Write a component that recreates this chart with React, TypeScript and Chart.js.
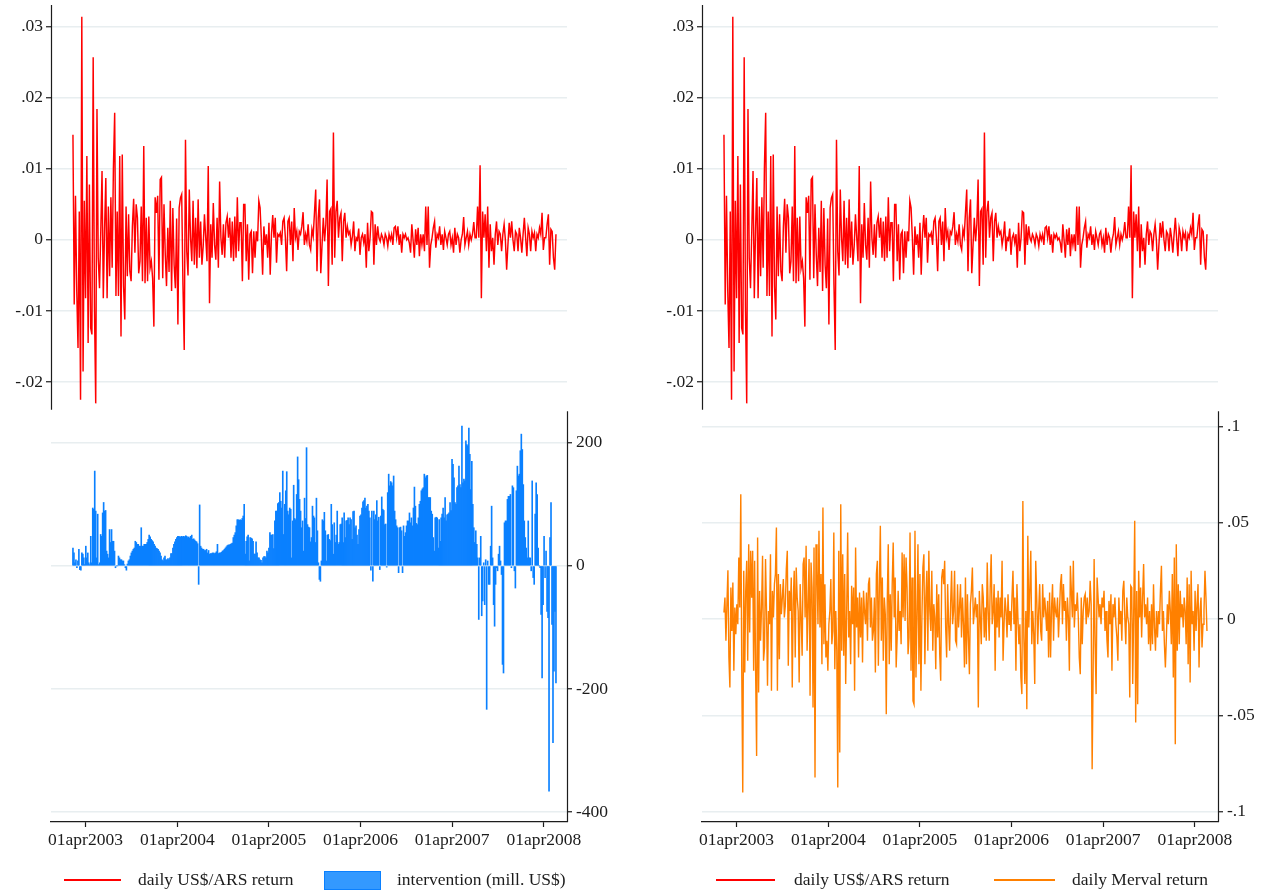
import React, { useEffect, useRef } from "react";
import { Chart, registerables } from "chart.js";

Chart.register(...registerables);

// Sample period and x-axis labelling
const FIRST_DAY = "2003-02-10";
const LAST_DAY = "2008-05-19";
const BASE_DAY = "2003-04-01";
const TICK_DATES = ["2003-04-01", "2004-04-01", "2005-04-01", "2006-04-01", "2007-04-01", "2008-04-01"];
const TICK_LABELS = ["01apr2003", "01apr2004", "01apr2005", "01apr2006", "01apr2007", "01apr2008"];

const RETURN_TICKS = [0.03, 0.02, 0.01, 0, -0.01, -0.02];
const RETURN_TICK_LABELS = [".03", ".02", ".01", "0", "-.01", "-.02"];
const INTERVENTION_TICKS = [200, 0, -200, -400];
const INTERVENTION_TICK_LABELS = ["200", "0", "-200", "-400"];
const MERVAL_TICKS = [0.1, 0.05, 0, -0.05, -0.1];
const MERVAL_TICK_LABELS = [".1", ".05", "0", "-.05", "-.1"];

// daily US$/ARS return, basis points (1 bp = 0.0001)
const usdArsReturnBp = [
  148, -91, 62, -72, -152, 40, -225, 314, -185, 55, -82, 118, -145, 78, -124, -133, 257, -94, -230, 184, -25,
  -68, 12, 97, -82, 15, 87, -82, 47, -51, 60, -39, 102, 179, -79, 40, -79, 118, -136, 120, -65, -112, 47, -51, 36, -44, -58,
  19, 58, -18, 50, 31, -47, -30, 47, -58, 132, -61, 31, -58, 33, -40, -30, -54, -122, 60, 38, 62, -56, 85, 88, -54, 50, -20,
  -65, 17, -45, 55, -72, 45, -35, -68, 30, -119, 45, 59, 64, -63, -155, 141, -16, -50, 71, 3, -30, 55, -35, 31, -40, 57, -25,
  26, -35, -9, 36, 3, -30, 104, -89, 22, -25, 52, -7, -28, 31, -39, 82, 3, -21, 22, -25, 24, 33, 3,
  31, -25, 26, -30, 33, -25, 60, -16, 24, 24, -58, 50, 50, -30, 22, -56, 8, 12, -47, 12, -25, 12, -2, 55, 45, 3, -49, 19,
  -7, 8, -25, 24, -49, 8, 35, 3, 31, -32, 8, 5, 10, -7, 26, 31, 3, -44, 26, 31, -7, 26, -30, 45, 3, 12, -14, 12, 8, 19, 39,
  -7, 8, -2, 22, -7, -14, 15, 5, 38, 71, -44, 31, 57, -47, -7, 31, -2, 22, 85, -65, 40, 44, -35, 151, -25, 40, 55, 3, 31,
  38, -30, 26, 38, 3, 19, 8, 12, -7, 5, 26, -16, 3, 0, 16, -21, 3, 8, -4, 8, -39, 24, -16, 3, 40, 38, -35, 22, -7, 19, 3,
  -2, 8, 3, -7, 8, 3, -9, 8, 0, 8, -7, 17,
  19, 3, 19, -7, 8, -18, 8, 3, 8, 0, 3, -4, -18, 22, 0, -25, 15, -7, 17, -23, 8, -7, 8, -16, 47, -7, 47, -39, -7, 3, 17, 26,
  -11, 8, 3, 19, -7, 8, -14, 12, 3, -7, 8, 12, -7, 3, -18, 17, -7, 8, 3, -18, 0, 8, 32, -7, 3, 12, -7, 8, 0, 8, 25, 3, 3,
  47, 3, 105, -82, 40, 3, 36, -16, 47, -39, 22, -16, 3, -35, 8, 26, -7, 12, 8, -16, 8, 22, 0, -42, -7, 24, 3, 26, 0, -16, 12,
  8, -16, 17, 3, -18, 8, 31, 3, -23, 17, 8, -16, 12, 3, 10, -16, 8, 3, 17, 8, 38, -14, 3, 3, 22, 36, -35, 15, 12, -25, -42, 8,
];

// daily central bank intervention, millions of US$
const interventionMillUsd = [
  29, 21, 5, 10, -3, 8, 27, -6, -7, 21, 19, 13, 2, 32, 13, 21, 5, 2, 48, 5, 94, 92, 154, 89, 13, 84, 2, 5, 51, 48, 86, 103,
  89, 90, 24, 19, 13, 59, 38, 59, 40, 40, 24, -3, 0, 0, 16, 13, 10, 10, 8, 8, 2, -3, -7, 3, 8, 10, 16, 21, 24, 27, 29, 40,
  38, 35, 35, 32, 32, 62, 32, 32, 35, 35, 35, 38, 43, 50, 47, 43, 41, 39, 35, 32, 29, 28, 27, 24, 21, 16, 10, 8, 13, 16, 10,
  10, 12, 10, 13, 20, 20, 29, 35, 39, 43, 46, 48, 48, 47, 47, 48, 47, 48, 47, 49, 48, 46, 47, 45, 48, 50, 43, 44, 42, 40, 39,
  36, -30, 99, 32, 29, 27, 27, 25, 25, 27, 21, 25, 19, 20, 20, 21, 21, 20, 21, 23, 35, 20, 21, 21, 22, 24, 25, 27, 29, 31,
  33, 34,
  34, 35, 36, 37, 46, 50, 54, 65, 75, 75, 74, 75, 74, 77, 81, 100, 19, 40, 47, 50, 8, 46, 45, 44, 40, 19, 19, 39, 21, 13, 13,
  10, 9, 5, 13, 15, 15, 13, 24, 21, 29, 54, 50, 50, 51, 28, 73, 89, 89, 101, 103, 119, 105, 94, 154, 51, 100, 122, 153, 89,
  83, 94, 92, 13, 73, 131, 77, 75, 116, 177, 140, 108, 89, 62, 73, 24, 110, 77, 192, 67, 63, 62, 39, 46, 97, 81, 78, 38, 110,
  57, 5, -22, -25, 8, 75, 73, 87, 57, 8, 50, 51, 43, 41, 100, 67, 19, 70, 38, 50, 89, 35, 38, 67, 68, 78, 38, 86, 46, 73, 74,
  78, 67, 78, 75, 43, 88, 89, 62, 65, 50, 35, 59, 81, 83, 94, 104, 106, 110, 94, 97, 100, 89, 78, -7, 89, -25, 89, 75, 83,
  106, 73, 79, -6, 81, 112, 92, 90, 67, 68, -2, 119, 149, 130, 137, 135, 130,
  146, 89, 75, 65, 62, -11, 62, 63, 57, -11, 65, 48, 54, 65, 73, 73, 86, 70, 78, 65, 94, 128, 97, 69, 67, 78, 100, 105, 122,
  125, 127, 149, 143, 146, 147, 111, 111, 111, 89, 84, 46, 24, 78, 79, 78, 29, 75, 40, 78, 84, 94, 78, 111, 73, 83, 84, 86,
  103, 90, 173, 165, 143, 103, 100, 127, 130, 162, 132, 127, 227, 135, 141, 138, 203, 197, 195, 224, 181, 124, 170, 100, 62,
  38, 57, 35, 13, -87, 13, 48, -81, -57, 5, -63, 10, -233, 8, -30, -30, 32, 97, 13, -63, -98, -30, -3, -8, 19, 32, 8, -14,
  -160, -174, 70, 73, 73, 108, 113, 113, 116, -3, 130, 127, -8, -36, 122, 162, 146, 149, 187, 214, 189, 132, 73, 46, 29, 13,
  73, 13, 13, -8, 138, -19, -30, 84, 135, 116, 29, 0, -3, -79, -182, -63, 48, -19, 24, -74, -84, -366, 46, 103, -95, -287,
  -171, -74, -190,
];

// daily Merval return, basis points
const mervalReturnBp = [
  35, 112, -112, 78, 254, -199, -355, 164, -61, 190, -268, 61, -78, 78, -26, 320, 61, 649, -277, -900, 251, -277, 147, 303,
  -216, 389, -69, 355, 112, 355, -268, 303, -277, -710, 424, -381, 147, -112, 61, 329, -216, -147, 312, 43, -346, 43, -26, 337,
  -372, 147, 9, 182, 234, 476, -372, 234, -208, 182, 26, 112, 208, 9, 69, 260, 355, -242, 147, 43, 216, -355, 95, 251, -199,
  268, 112, 43, -329, 182, 9, -190, 286, 320, 9, 381, -164, 78, 312, -398, 294, 164, -459, 372, -822, 389, 251, -26, 459, -43,
  234, -234, 580, -130, 182, -199, -112, -268, -26, 43, 208, -130, -61, 450, -260, 43, -164, -874, 355, -692, 597, -164, 337,
  -190, 234, -337, 43, 450, -95, 43, -234, 173, -26, 164, -372, 372, -43, 112, -199, 138, -95, 112, -225, 147, 43, -26, 138,
  -112, 182, 216, -43, 112, -112, -61, 112, -277, 234, 303, -242, 164, 485, -112, 216, -216, 112, 26, -493,
  95, 389, -234, 130, -164, 182, 398, 9, 216, -251, -95, 147, -61, 43, -130, 346, 9, 337, -9, 320, 164, -182, -95, 450, -268,
  216, -424, -441, 459, -303, 9, 389, -234, 234, -372, 9, 268, 337, -234, 112, 251, -164, 355, 43, -61, 251, -164, 78, 9,
  -260, 182, -95, 130, -182, -320, 216, 260, 182, 303, -43, -199, 182, -26, -164, 78, 251, -26, 43, 251, -112, -130, 182, -43,
  61, 182, -95, 112, -26, -251, 216, -234, 130, -95, -286, 78, 147, 268, -26, 43, 112, 9, 78, -459, 147, 9, -130, 182, 112,
  -95, 61, -112, 294, 43, -112, 164, 337, -26, 43, 182, -268, 112, -43, 147, -95, 112, 9, 303, -216, -26, 112, 43, -95, 130,
  -26, 43, -61, 112, 251, -26, 112, -268, 182, 9, -130, -26, -303, -389, 614, -95, -337, 43, -467, 433, -43, 147, 355, -130,
  43, -78, -337, 303, 112, -130, 43, 182, -61, -112, 182, 9, 112, 43, -61, 95, -199, 138,
  -199, 61, 182, -112, 112, 43, 9, 112, -95, 43, 182, 234, -26, 182, 43, 95, -112, 112, 9, -268, 277, 147, 9, 303, -43, 78,
  43, 138, 9, -199, -286, 112, -130, 43, 112, 130, -26, 112, 9, 43, 199, 78, -779, -268, 312, -130, -389, 216, 112, 9, 78,
  -26, 112, 61, 147, -61, 43, -112, -199, 95, -26, 130, -268, 78, 9, 112, -26, -95, -216, 112, -26, 43, -112, 147, 199, 9,
  -130, 112, 9, -26, -407, 173, 164, -337, 43, 511, -537, 147, -441, 251, 9, 164, -95, 112, 286, 9, 78, -26, 112, -130, 43,
  -164, 78, -130, 182, -43, -164, 43, -95, 43, -26, 147, 277, -61, 43, -130, -251, -95, 78, -26, 147, 43, -130, 234, -303,
  320, -649, 389, -164, 182, -130, 147, 9, 78, -43, 112, 43, -130, 216, -234, 182, -329, 251, -26, 43, -164, 147, -61, 78,
  182, -251, 43, 112, -147, -26, 43, 251, 112, -61,
];

const BP = 1 / 10000;

const dayOf = (d: string) => (Date.parse(d + "T00:00:00Z") - Date.parse(BASE_DAY + "T00:00:00Z")) / 86400000;

// spread a series of daily observations evenly over the sample period
function toPoints(values: number[], factor: number) {
  const a = dayOf(FIRST_DAY);
  const b = dayOf(LAST_DAY);
  const step = (b - a) / (values.length - 1);
  return values.map((v, i) => ({ x: a + i * step, y: v * factor }));
}

const FONT = { family: '"Liberation Serif", "Times New Roman", serif', size: 17.5 };
const INK = "#1c1c1c";
const GRID = "#e8eef0";
const RED = "#ff0000";
const BLUE = "#0a80ff";
const ORANGE = "#ff8000";

const X_MIN = -137.5;
const X_MAX = 1919;
const RETURN_MIN = -0.0819;
const RETURN_MAX = 0.03305;
const RETURN_AXIS_END = -0.0239;

const fixedTicks = (values: number[]) => (scale: any) => {
  scale.ticks = values.map((v) => ({ value: v }));
};

// vertical axes keep an exact width and no extra label room above/below the plot
const fixedWidth = (w: number) => (s: any) => {
  s.width = w;
  s.paddingTop = 0;
  s.paddingBottom = 0;
};

// axis lines that only cover the part of the plot each series lives in
const splitAxisLines = {
  id: "splitAxisLines",
  afterDraw(chart: any, _args: any, o: any) {
    const { ctx, chartArea } = chart;
    const yEnd = chart.scales.y.getPixelForValue(o.leftEnd);
    const yStart = chart.scales.y2.getPixelForValue(o.rightStart);
    const l = Math.round(chartArea.left) + 0.5;
    const r = Math.round(chartArea.right) + 0.5;
    ctx.save();
    ctx.strokeStyle = INK;
    ctx.lineWidth = 1.2;
    ctx.beginPath();
    ctx.moveTo(l, chartArea.top);
    ctx.lineTo(l, yEnd);
    ctx.moveTo(r, yStart);
    ctx.lineTo(r, chartArea.bottom);
    ctx.stroke();
    ctx.restore();
  },
};

type Panel = {
  lowerKind: "bar" | "line";
  lowerValues: number[];
  lowerFactor: number;
  lowerColor: string;
  y2Min: number;
  y2Max: number;
  y2Ticks: number[];
  y2Labels: string[];
  rightAxisFrom: number;
  yWidth: number;
  y2Width: number;
};

const INTERVENTION_PANEL: Panel = {
  lowerKind: "bar",
  lowerValues: interventionMillUsd,
  lowerFactor: 1,
  lowerColor: BLUE,
  y2Min: -416,
  y2Max: 911,
  y2Ticks: INTERVENTION_TICKS,
  y2Labels: INTERVENTION_TICK_LABELS,
  rightAxisFrom: 251,
  yWidth: 51,
  y2Width: 66,
};

const MERVAL_PANEL: Panel = {
  lowerKind: "line",
  lowerValues: mervalReturnBp,
  lowerFactor: BP,
  lowerColor: ORANGE,
  y2Min: -0.1053,
  y2Max: 0.3189,
  y2Ticks: MERVAL_TICKS,
  y2Labels: MERVAL_TICK_LABELS,
  rightAxisFrom: 0.108,
  yWidth: 69,
  y2Width: 48,
};

function buildConfig(p: Panel): any {
  const lower = toPoints(p.lowerValues, p.lowerFactor);
  const lowerDataset =
    p.lowerKind === "bar"
      ? {
          type: "bar",
          data: lower,
          yAxisID: "y2",
          backgroundColor: p.lowerColor,
          borderWidth: 0,
          barPercentage: 1,
          categoryPercentage: 1,
          grouped: false,
        }
      : {
          type: "line",
          data: lower,
          yAxisID: "y2",
          borderColor: p.lowerColor,
          borderWidth: 1.4,
          pointRadius: 0,
          tension: 0,
        };
  const tickDays = TICK_DATES.map(dayOf);
  return {
    type: "bar",
    data: {
      datasets: [
        {
          type: "line",
          data: toPoints(usdArsReturnBp, BP),
          yAxisID: "y",
          borderColor: RED,
          borderWidth: 1.45,
          pointRadius: 0,
          tension: 0,
        },
        lowerDataset,
      ],
    },
    options: {
      animation: false,
      responsive: false,
      devicePixelRatio: 1,
      layout: { padding: { top: 5, bottom: 40, left: 0, right: 0 } },
      plugins: {
        legend: { display: false },
        tooltip: { enabled: false },
        splitAxisLines: { leftEnd: RETURN_AXIS_END, rightStart: p.rightAxisFrom },
      },
      scales: {
        x: {
          type: "linear",
          min: X_MIN,
          max: X_MAX,
          offset: false,
          afterBuildTicks: fixedTicks(tickDays),
          afterFit: (s: any) => {
            s.height = 28;
          },
          grid: { drawOnChartArea: false, offset: false, tickLength: 5, tickColor: INK, tickWidth: 1.2 },
          border: { display: true, color: INK, width: 1.2 },
          ticks: {
            autoSkip: false,
            maxRotation: 0,
            padding: 3,
            color: INK,
            font: FONT,
            callback: (_v: any, i: number) => TICK_LABELS[i],
          },
        },
        y: {
          position: "left",
          min: RETURN_MIN,
          max: RETURN_MAX,
          afterBuildTicks: fixedTicks(RETURN_TICKS),
          afterFit: fixedWidth(p.yWidth),
          grid: { color: GRID, lineWidth: 1.5, tickLength: 5, tickColor: INK, tickWidth: 1.2 },
          border: { display: false },
          ticks: {
            autoSkip: false,
            padding: 3,
            color: INK,
            font: FONT,
            callback: (_v: any, i: number) => RETURN_TICK_LABELS[i],
          },
        },
        y2: {
          position: "right",
          min: p.y2Min,
          max: p.y2Max,
          afterBuildTicks: fixedTicks(p.y2Ticks),
          afterFit: fixedWidth(p.y2Width),
          grid: { color: GRID, lineWidth: 1.5, tickLength: 5, tickColor: INK, tickWidth: 1.2 },
          border: { display: false },
          ticks: {
            autoSkip: false,
            padding: 4,
            color: INK,
            font: FONT,
            callback: (_v: any, i: number) => p.y2Labels[i],
          },
        },
      },
    },
    plugins: [splitAxisLines],
  };
}

type LegendItem = {
  kind: "line" | "box";
  color: string;
  label: string;
  keyLeft: number;
  keyWidth: number;
  textLeft: number;
};

const INTERVENTION_LEGEND: LegendItem[] = [
  { kind: "line", color: RED, label: "daily US$/ARS return", keyLeft: 64, keyWidth: 57, textLeft: 138 },
  { kind: "box", color: "#3399ff", label: "intervention (mill. US$)", keyLeft: 324, keyWidth: 57, textLeft: 397 },
];

const MERVAL_LEGEND: LegendItem[] = [
  { kind: "line", color: RED, label: "daily US$/ARS return", keyLeft: 83, keyWidth: 59, textLeft: 161 },
  { kind: "line", color: ORANGE, label: "daily Merval return", keyLeft: 361, keyWidth: 61, textLeft: 439 },
];

function Legend({ items }: { items: LegendItem[] }) {
  return (
    <>
      {items.map((it) => (
        <React.Fragment key={it.label}>
          {it.kind === "line" ? (
            <div
              style={{
                position: "absolute",
                left: it.keyLeft,
                top: 879,
                width: it.keyWidth,
                height: 1.6,
                background: it.color,
              }}
            />
          ) : (
            <div
              style={{
                position: "absolute",
                left: it.keyLeft,
                top: 871,
                width: it.keyWidth - 2,
                height: 17,
                background: it.color,
                border: `1px solid ${BLUE}`,
              }}
            />
          )}
          <div
            style={{
              position: "absolute",
              left: it.textLeft,
              top: 868,
              height: 22,
              lineHeight: "22px",
              fontFamily: FONT.family,
              fontSize: 17.5,
              color: INK,
              whiteSpace: "nowrap",
            }}
          >
            {it.label}
          </div>
        </React.Fragment>
      ))}
    </>
  );
}

function PanelChart({ panel, legend, left }: { panel: Panel; legend: LegendItem[]; left: number }) {
  const ref = useRef<HTMLCanvasElement | null>(null);
  useEffect(() => {
    const chart = new Chart(ref.current as HTMLCanvasElement, buildConfig(panel));
    return () => chart.destroy();
  }, [panel]);
  return (
    <div style={{ position: "absolute", left, top: 0, width: 633, height: 890 }}>
      <canvas ref={ref} width={633} height={890} style={{ display: "block", width: 633, height: 890 }} />
      <Legend items={legend} />
    </div>
  );
}

export default function App() {
  return (
    <div style={{ position: "absolute", left: 0, top: 0, width: 1266, height: 890, background: "#fff" }}>
      <PanelChart panel={INTERVENTION_PANEL} legend={INTERVENTION_LEGEND} left={0} />
      <PanelChart panel={MERVAL_PANEL} legend={MERVAL_LEGEND} left={633} />
    </div>
  );
}
